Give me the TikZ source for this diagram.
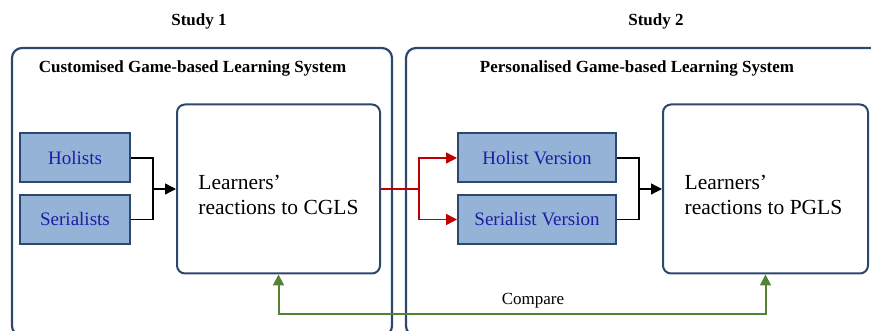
\documentclass[tikz,border=0pt]{standalone}
\usepackage{fontspec}
\setmainfont{Liberation Serif}
\usetikzlibrary{arrows.meta}
\definecolor{navy}{RGB}{44,72,110}
\definecolor{boxfill}{RGB}{149,179,215}
\definecolor{boxtext}{RGB}{28,28,165}
\definecolor{flowred}{RGB}{192,0,0}
\definecolor{flowgreen}{RGB}{84,130,53}
\begin{document}
\begin{tikzpicture}[x=1pt,y=-1pt,
	group/.style={draw=navy,line width=2.2pt,rounded corners=10pt},
	learner/.style={draw=navy,line width=2pt,fill=boxfill,text=boxtext,
		minimum height=49pt,font=\fontsize{19}{22}\selectfont},
	reaction/.style={draw=navy,line width=2pt,rounded corners=8pt,
		minimum height=169pt},
	outcome/.style={align=left,font=\fontsize{21.5}{25.5}\selectfont},
	heading/.style={font=\fontsize{17}{20}\selectfont\bfseries,anchor=base},
	link/.style={line width=1.4pt},
	arr/.style={-{Triangle[length=11pt,width=11pt]}}]
	\useasboundingbox (0,0) rectangle (871,331);
	% the two studies
	\draw[group] (12,48) rectangle (392,336);
	\draw[group] (406,48) rectangle (884,336);
	\node[heading] (st1) at (199,26) {Study 1};
	\node[heading] (st2) at (656,26) {Study 2};
	\node[heading] (cgs) at (192.5,73) {Customised Game-based Learning System};
	\node[heading] (pgs) at (637,73) {Personalised Game-based Learning System};
	% study 1
	\node[learner,minimum width=110pt] (hol) at (75,158) {Holists};
	\node[learner,minimum width=110pt] (ser) at (75,219.5) {Serialists};
	\node[reaction,minimum width=203pt] (cgls) at (278.5,189) {};
	\node[outcome] (cglst) at ([yshift=-6pt]cgls.center) {Learners'\\reactions to CGLS};
	\coordinate (j1) at (153,189);
	\draw[link] (hol.east) -| (j1);
	\draw[link] (ser.east) -| (j1);
	\draw[link,arr] (j1) -- (cgls.west);
	% study 2
	\node[learner,minimum width=158pt] (hv) at (537,158) {Holist Version};
	\node[learner,minimum width=158pt] (sv) at (537,219.5) {Serialist Version};
	\node[reaction,minimum width=205pt] (pgls) at (765.5,189) {};
	\node[outcome] (pglst) at ([xshift=-2pt,yshift=-6pt]pgls.center) {Learners'\\reactions to PGLS};
	\coordinate (j2) at (639,189);
	\draw[link] (hv.east) -| (j2);
	\draw[link] (sv.east) -| (j2);
	\draw[link,arr] (j2) -- (pgls.west);
	% from study 1 to study 2
	\coordinate (r1) at (419,189);
	\draw[link,flowred] (cgls.east) -- (r1);
	\draw[link,flowred,arr] (r1) |- (hv.west);
	\draw[link,flowred,arr] (r1) |- (sv.west);
	% comparison
	\draw[line width=2pt,flowgreen,{Triangle[length=11pt,width=11pt]}-{Triangle[length=11pt,width=11pt]}]
		(cgls.south) -- ++(0,39.5) -| (pgls.south);
	\node[font=\fontsize{17}{20}\selectfont,anchor=base] (cmp) at (533,305) {Compare};
\end{tikzpicture}
\end{document}
